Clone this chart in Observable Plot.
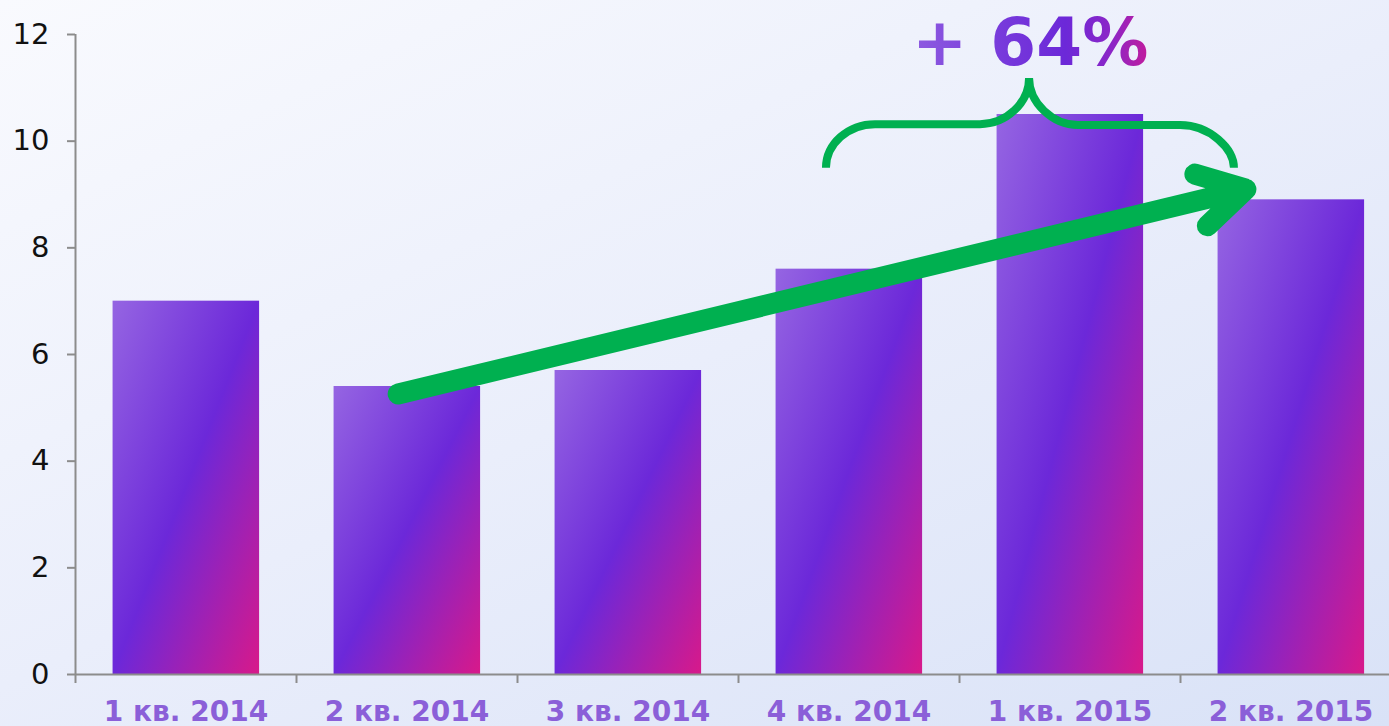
<!DOCTYPE html>
<html>
<head>
<meta charset="utf-8">
<script src="https://cdn.jsdelivr.net/npm/d3@7"></script>
<script src="https://cdn.jsdelivr.net/npm/@observablehq/plot@0.6"></script>
<style>
  html, body { margin: 0; padding: 0; background: #eef1fb; }
  #chart svg { display: block; }
</style>
</head>
<body>
<div id="chart"></div>
<script>
// ---- data ----
const categories = ["1 кв. 2014", "2 кв. 2014", "3 кв. 2014", "4 кв. 2014", "1 кв. 2015", "2 кв. 2015"];
const values = [7.0, 5.4, 5.7, 7.6, 10.5, 8.9];
const yTicks = [0, 2, 4, 6, 8, 10, 12];
const growthLabel = "+ 64%";

// annotation anchors in data space (x: category index units, y: value units)
const arrowData = [{x1: 1.46, y1: 5.26, x2: 5.296, y2: 9.10}];
const labelData = [{x: 4.32, y: 11.83, text: growthLabel}];
const braceSegments = [
  {c: "M", p: [[3.398, 9.49]]},
  {c: "C", p: [[3.398, 9.9375], [3.498, 10.31], [3.620, 10.31]]},
  {c: "L", p: [[4.095, 10.31]]},
  {c: "C", p: [[4.213, 10.31], [4.317, 10.706], [4.317, 11.175]]},
  {c: "C", p: [[4.317, 10.706], [4.425, 10.294], [4.538, 10.294]]},
  {c: "L", p: [[5.0, 10.294]]},
  {c: "C", p: [[5.136, 10.294], [5.244, 9.844], [5.244, 9.49]]}
];

const rows = categories.map((c, i) => ({i, c, v: values[i]}));

const defsMark = () => {
  const defs = d3.create("svg:defs");
  defs.html(`
    <linearGradient id="barGrad" x1="0" y1="0" x2="1" y2="1">
      <stop offset="0" stop-color="#9565e2"/>
      <stop offset="0.5" stop-color="#6c28d9"/>
      <stop offset="1" stop-color="#d8198a"/>
    </linearGradient>
    <linearGradient id="txtGrad" x1="0" y1="0" x2="1" y2="0">
      <stop offset="0" stop-color="#8e5be0"/>
      <stop offset="0.4" stop-color="#7638db"/>
      <stop offset="0.65" stop-color="#6c28d8"/>
      <stop offset="0.85" stop-color="#8d26c6"/>
      <stop offset="1" stop-color="#c21b9c"/>
    </linearGradient>`);
  return defs.node();
};

const braceMark = (index, scales) => {
  const x = scales.x, y = scales.y;
  const d = braceSegments.map(s => s.c + s.p.map(([a, b]) => `${x(a)},${y(b)}`).join(" ")).join(" ");
  return d3.create("svg:path")
    .attr("d", d)
    .attr("fill", "none")
    .attr("stroke", "#00b050")
    .attr("stroke-width", 8)
    .node();
};

const chart = Plot.plot({
  width: 1389,
  height: 726,
  marginLeft: 75,
  marginRight: 0,
  marginTop: 34,
  marginBottom: 52,
  style: {
    fontFamily: "'DejaVu Sans', Verdana, sans-serif",
    background: "linear-gradient(155deg, #f9fafe 0%, #eaeefb 50%, #d9e2f7 100%)",
    overflow: "visible"
  },
  x: {domain: [0, 6], range: [75, 1401]},
  y: {domain: [0, 12]},
  marks: [
    defsMark,
    Plot.rectY(rows, {
      x1: d => d.i + 0.17,
      x2: d => d.i + 0.833,
      y1: 0,
      y2: "v",
      fill: "url(#barGrad)"
    }),
    Plot.ruleY([0], {stroke: "#8c8c8c", strokeWidth: 2}),
    Plot.ruleX([0], {y1: 0, y2: 12, stroke: "#8c8c8c", strokeWidth: 2}),
    Plot.axisY(yTicks, {
      tickSize: 8, tickPadding: 18, fontSize: 29,
      tickFormat: d => String(d),
      stroke: "#8c8c8c", strokeWidth: 2, fill: "#111", label: null
    }),
    Plot.axisX(d3.range(0, 7), {
      tickSize: 9, tickFormat: () => "", stroke: "#8c8c8c", strokeWidth: 2, label: null
    }),
    Plot.axisX(d3.range(6).map(i => i + 0.5), {
      tickSize: 0, tickPadding: 27, fontSize: 28, fontWeight: "bold",
      fill: "#8b5fd8", tickFormat: d => categories[Math.floor(d)], label: null
    }),
    Plot.arrow(arrowData, {
      x1: "x1", y1: "y1", x2: "x2", y2: "y2",
      stroke: "#00b050", strokeWidth: 21,
      headAngle: 60, headLength: 3.8,
      strokeLinecap: "round", strokeLinejoin: "miter"
    }),
    braceMark,
    Plot.text(labelData, {
      x: "x", y: "y", text: "text",
      fontSize: 66, fontWeight: "bold",
      fill: "url(#txtGrad)", textAnchor: "middle", lineAnchor: "middle"
    })
  ]
});

document.getElementById("chart").appendChild(chart);
</script>
</body>
</html>
